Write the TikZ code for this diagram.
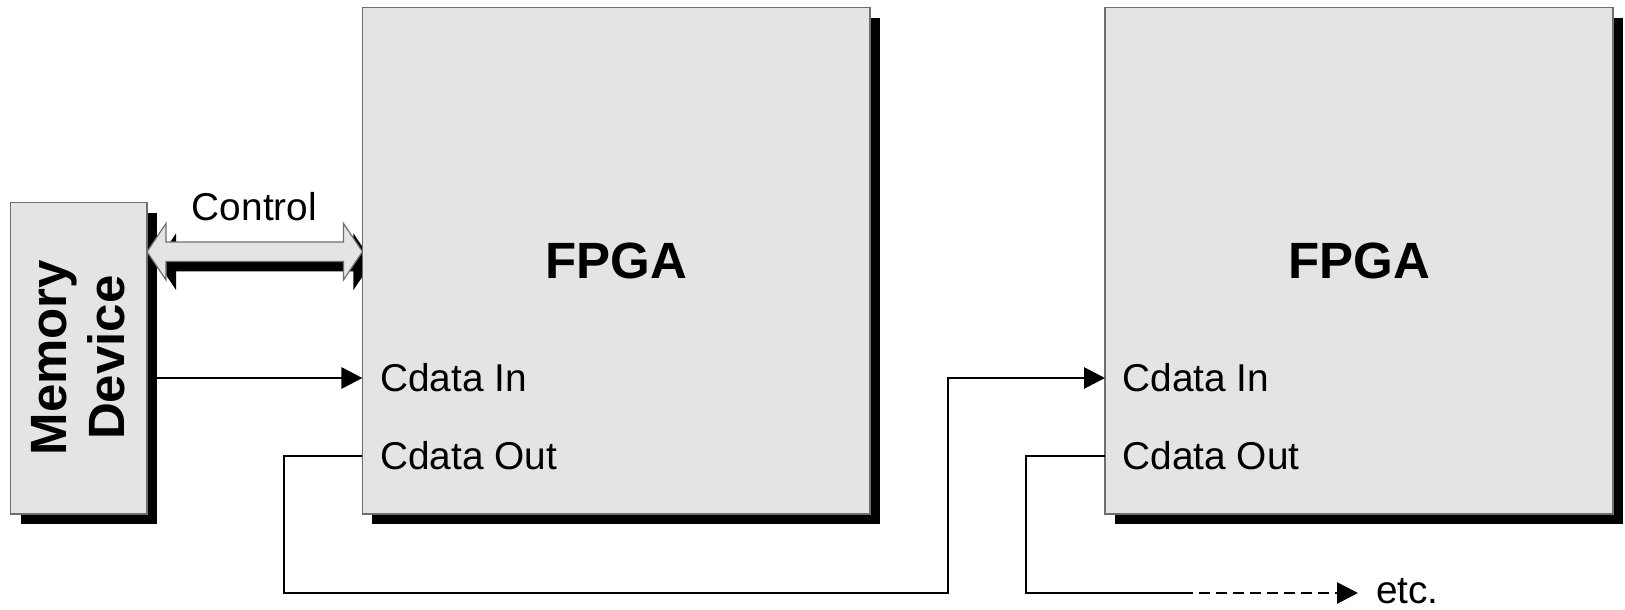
\documentclass[tikz,border=0pt]{standalone}
\usepackage{fontspec}
\setmainfont{Liberation Sans}
\usetikzlibrary{arrows.meta,shadows,calc}
\definecolor{boxfill}{HTML}{E4E4E4}
\definecolor{boxline}{HTML}{6E6E6E}
\begin{document}
\begin{tikzpicture}[x=1pt,y=-1pt,
  shad/.style={drop shadow={shadow xshift=10pt,shadow yshift=-10pt,opacity=1,fill=black,draw=none}},
  blockbox/.style={shad,draw=boxline,line width=1.2pt,fill=boxfill,inner sep=0pt,outer sep=0pt},
  conn/.style={line width=2.8pt},
  tipend/.style={-{Triangle[length=21pt,width=21pt]}},
  lbl/.style={font=\fontsize{38.8}{44}\selectfont,inner sep=0pt},
  big/.style={font=\fontsize{51}{58}\selectfont\bfseries,inner sep=0pt}]
\useasboundingbox (0,0) rectangle (1625,610);
% memory box
\node[blockbox,minimum width=136.3pt,minimum height=311.3pt] (mem) at (78.9,358.3) {};
\node[big,rotate=90,align=center] (memtext) at (78.5,357.6) {Memory\\Device};
% helper levels
\coordinate (ymid) at (0,251.7);
\coordinate (yin) at (0,378);
\coordinate (yout) at (0,456);
\coordinate (cl) at (mem.east |- ymid);
\coordinate (cr) at (362.45,251.7);
% control double arrow (drawn before FPGA so its shadow hides behind it)
\path[shad,draw=boxline,line width=1.2pt,fill=boxfill]
  (cl) -- ($(cl)+(19,-28.3)$) -- ($(cl)+(19,-9.7)$) -- ($(cr)+(-19,-9.7)$)
  -- ($(cr)+(-19,-28.3)$) -- (cr) -- ($(cr)+(-19,28.3)$) -- ($(cr)+(-19,9.7)$)
  -- ($(cl)+(19,9.7)$) -- ($(cl)+(19,28.3)$) -- cycle;
\node[lbl,anchor=base] (ctrl) at (254.5,220.6) {Control};
% FPGA boxes
\node[blockbox,big,minimum width=507.5pt,minimum height=506.3pt] (fpga1) at (616.2,260.8) {FPGA};
\node[blockbox,big,minimum width=508pt,minimum height=506.3pt] (fpga2) at (1359,260.8) {FPGA};
\coordinate (memout) at ([xshift=10pt]mem.east);
\coordinate (in1) at (fpga1.west |- yin);
\coordinate (out1) at (fpga1.west |- yout);
\coordinate (in2) at (fpga2.west |- yin);
\coordinate (out2) at (fpga2.west |- yout);
\coordinate (c1) at (284,593);
\coordinate (c2) at (948,593);
\coordinate (c3) at (1026,593);
\coordinate (etcstart) at (1182,593);
\coordinate (etcend) at (1358,593);
% labels
\node[lbl,anchor=west] (cin1) at ($(in1)+(17.5,0)$) {Cdata In};
\node[lbl,anchor=west] (cout1) at ($(out1)+(17.5,0)$) {Cdata Out};
\node[lbl,anchor=west] (cin2) at ($(in2)+(17.5,0)$) {Cdata In};
\node[lbl,anchor=west] (cout2) at ($(out2)+(17.5,0)$) {Cdata Out};
\node[lbl,anchor=base west] (etc) at (1376,603) {etc.};
% connectors
\draw[conn,tipend] (memout |- in1) -- (in1);
\draw[conn,tipend] (out1) -| (c1) -- (c2) |- (in2);
\draw[conn] (out2) -| (c3) -- (etcstart);
\draw[conn,tipend,dash pattern=on 11pt off 6pt] (etcstart) -- (etcend);
\end{tikzpicture}
\end{document}
